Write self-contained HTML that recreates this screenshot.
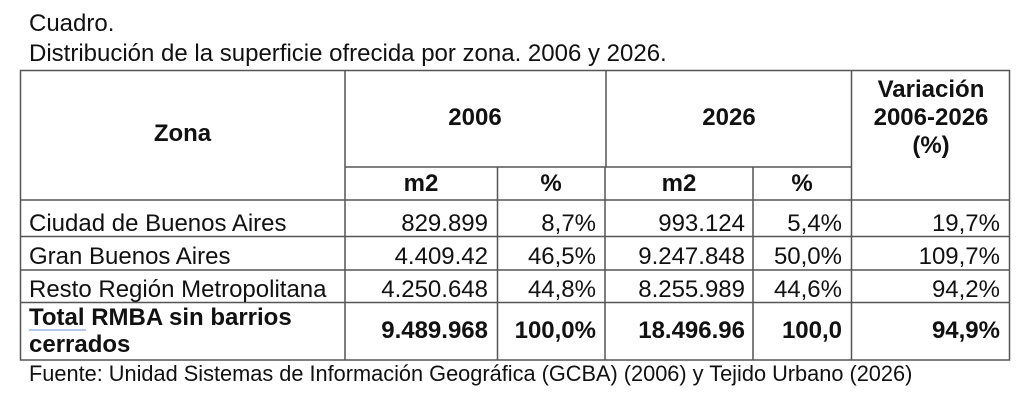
<!DOCTYPE html>
<html><head><meta charset="utf-8"><style>
body{margin:0;width:1024px;height:400px;background:#fff;position:relative;overflow:hidden;font-family:"Liberation Sans",Arial,sans-serif;color:#111}
.t{position:absolute;white-space:nowrap;line-height:1;font-size:24px}
.b{font-weight:bold}
.r{text-align:right}
.c{text-align:center}
</style></head><body>
<svg width="1024" height="400" style="position:absolute;left:0;top:0">
<g stroke="#555" stroke-width="1.5" fill="none">
<rect x="20.5" y="70.5" width="989" height="289.5"/>
<line x1="345" y1="70" x2="345" y2="360"/>
<line x1="606" y1="70" x2="606" y2="167"/>
<line x1="605" y1="167" x2="605" y2="360"/>
<line x1="497.5" y1="167" x2="497.5" y2="360"/>
<line x1="753" y1="167" x2="753" y2="360"/>
<line x1="851.5" y1="70" x2="851.5" y2="360"/>
<line x1="345" y1="167" x2="851" y2="167"/>
<line x1="20" y1="200" x2="1010" y2="200"/>
<line x1="20" y1="236.5" x2="1010" y2="236.5"/>
<line x1="20" y1="270" x2="1010" y2="270"/>
<line x1="20" y1="302.5" x2="1010" y2="302.5"/>
</g>
<line x1="29" y1="330" x2="86" y2="330" stroke="#6a8fd8" stroke-width="1"/>
</svg>
<div class="t" style="left:29px;top:12px;font-size:24px">Cuadro.</div>
<div class="t" style="left:29px;top:42px;font-size:24px">Distribución de la superficie ofrecida por zona. 2006 y 2026.</div>

<div class="t b c" style="left:20px;width:325px;top:122px">Zona</div>
<div class="t b c" style="left:345px;width:260px;top:106px">2006</div>
<div class="t b c" style="left:606px;width:246px;top:106px">2026</div>
<div class="t b c" style="left:852px;width:158px;top:76px;line-height:28px">Variación<br>2006-2026<br>(%)</div>
<div class="t b c" style="left:345px;width:152px;top:172px">m2</div>
<div class="t b c" style="left:497px;width:108px;top:172px">%</div>
<div class="t b c" style="left:605px;width:148px;top:172px">m2</div>
<div class="t b c" style="left:753px;width:98px;top:172px">%</div>

<div class="t" style="left:29px;top:212px">Ciudad de Buenos Aires</div>
<div class="t" style="left:29px;top:245px">Gran Buenos Aires</div>
<div class="t" style="left:29px;top:278px">Resto Región Metropolitana</div>
<div class="t b" style="left:29px;top:304px;line-height:27px">Total RMBA sin barrios<br>cerrados</div>

<div class="t r" style="left:345px;width:143px;top:212px">829.899</div>
<div class="t r" style="left:345px;width:143px;top:245px">4.409.42</div>
<div class="t r" style="left:345px;width:143px;top:278px">4.250.648</div>
<div class="t r b" style="left:345px;width:143px;top:319px">9.489.968</div>

<div class="t r" style="left:497px;width:99px;top:212px">8,7%</div>
<div class="t r" style="left:497px;width:99px;top:245px">46,5%</div>
<div class="t r" style="left:497px;width:99px;top:278px">44,8%</div>
<div class="t r b" style="left:497px;width:99px;top:319px">100,0%</div>

<div class="t r" style="left:605px;width:140px;top:212px">993.124</div>
<div class="t r" style="left:605px;width:140px;top:245px">9.247.848</div>
<div class="t r" style="left:605px;width:140px;top:278px">8.255.989</div>
<div class="t r b" style="left:605px;width:140px;top:319px">18.496.96</div>

<div class="t r" style="left:753px;width:89px;top:212px">5,4%</div>
<div class="t r" style="left:753px;width:89px;top:245px">50,0%</div>
<div class="t r" style="left:753px;width:89px;top:278px">44,6%</div>
<div class="t r b" style="left:753px;width:89px;top:319px">100,0</div>

<div class="t r" style="left:852px;width:148px;top:212px">19,7%</div>
<div class="t r" style="left:852px;width:148px;top:245px">109,7%</div>
<div class="t r" style="left:852px;width:148px;top:278px">94,2%</div>
<div class="t r b" style="left:852px;width:148px;top:319px">94,9%</div>

<div class="t" style="left:29px;top:363px;font-size:21.75px">Fuente: Unidad Sistemas de Información Geográfica (GCBA) (2006) y Tejido Urbano (2026)</div>
</body></html>
